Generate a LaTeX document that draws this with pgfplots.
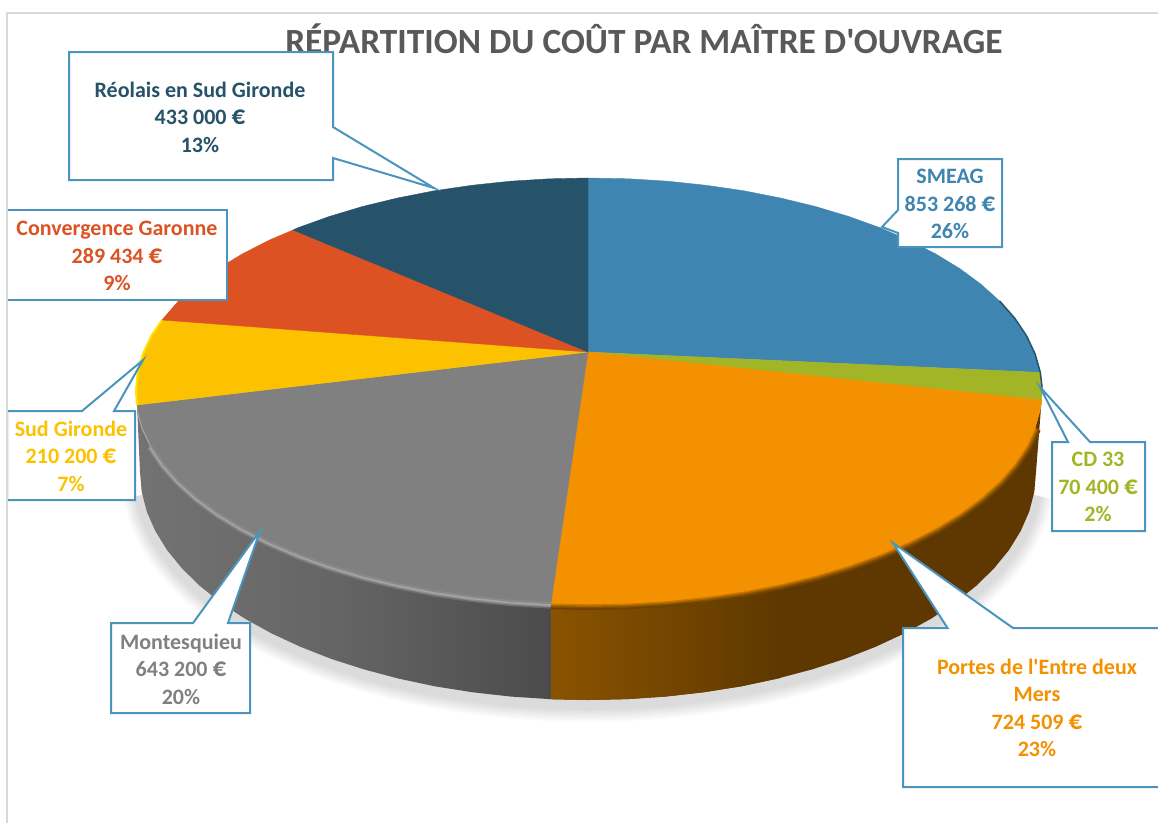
\documentclass[border=0pt]{standalone}
\usepackage{pgfplots}
\pgfplotsset{compat=1.18}
\usepackage{pgfplotstable}
\usepackage{fontspec}
\setmainfont{Carlito}[Ligatures=TeXOff]
\definecolor{cblue}{HTML}{3F85B1}
\definecolor{cgreen}{HTML}{A2B527}
\definecolor{corange}{HTML}{F49100}
\definecolor{cgrey}{HTML}{808080}
\definecolor{cyellow}{HTML}{FCC200}
\definecolor{cred}{HTML}{DC5223}
\definecolor{cnavy}{HTML}{265369}
\definecolor{cborder}{HTML}{4A94BE}
\definecolor{cframe}{HTML}{D9D9D9}
\definecolor{ctitle}{HTML}{595959}
\definecolor{cbrown}{HTML}{5E3800}
\definecolor{wallA}{HTML}{737373}
\definecolor{wallB}{HTML}{646464}
\definecolor{wallC}{HTML}{4B4B4B}
\definecolor{wallO}{HTML}{8A5300}
\definecolor{greyA}{HTML}{7A7A7A}
\definecolor{greyB}{HTML}{8E8E8E}
\definecolor{greyC}{HTML}{A6A6A6}
\definecolor{greyD}{HTML}{8A8A8A}
\newcommand{\eur}{{\fontsize{27}{27.5}\selectfont €}}
\pgfplotstableread{
x y
1034.3 491.9
1029.2 511.6
1020.7 531
1009 550
994 568.4
976 586
955 602.8
931.2 618.6
904.8 633.2
876 646.6
845 658.8
812 669.4
777.3 678.6
741.2 686.3
703.9 692.2
665.8 696.5
627.1 699.1
588 700
548.9 699.1
510.2 696.5
472.1 692.2
434.8 686.3
398.7 678.6
364 669.4
331 658.8
300 646.6
271.2 633.2
244.8 618.6
221 602.8
200 586
182 568.4
167 550
155.3 531
146.8 511.6
141.7 491.9
}\bottomarc
\pgfplotstableread{
x y
1035.1 428.0
1026.6 446.1
1014.7 463.8
999.6 481.0
981.3 497.5
960.1 513.2
936.0 527.9
909.3 541.6
880.2 554.2
848.8 565.5
815.5 575.5
780.4 584.0
743.9 591.2
706.2 596.7
667.6 600.8
628.5 603.2
589 604
551 603.2
}\rimorange
\pgfplotstableread{
x y
551 603.2
510.4 600.8
471.8 596.7
434.1 591.2
397.6 584.0
362.5 575.5
329.2 565.5
297.8 554.2
268.7 541.6
242.0 527.9
217.9 513.2
196.7 497.5
178.4 481.0
163.3 463.8
151.4 446.1
}\rimgrey
\pgfplotstableread{
x y
999.6 301
1014.7 318.2
1026.6 335.9
1035.1 354
1040.3 372.4
1041.8 385
1042 391
}\rimblue
\pgfplotstableread{
x y
137 405
136 391
137.7 372.4
142.9 354
151.4 335.9
162 320
}\rimyellow
\begin{document}
\begin{tikzpicture}
\begin{axis}[at={(0,0)},anchor=south west,scale only axis,width=1158pt,height=823pt,
  xmin=0,xmax=1158,ymin=0,ymax=823,y dir=reverse,hide axis,clip=true,line join=miter]
% background
\addplot[draw=none,fill=white] coordinates {(0,0)(1158,0)(1158,823)(0,823)} --cycle;
% soft shadow under the pie
\addplot[draw=black,opacity=.014,line width=38pt,yshift=-3pt] table[x=x,y=y]{\bottomarc};
\addplot[draw=black,opacity=.014,line width=35pt,yshift=-3pt] table[x=x,y=y]{\bottomarc};
\addplot[draw=black,opacity=.014,line width=32pt,yshift=-3pt] table[x=x,y=y]{\bottomarc};
\addplot[draw=black,opacity=.014,line width=29pt,yshift=-3pt] table[x=x,y=y]{\bottomarc};
\addplot[draw=black,opacity=.014,line width=26pt,yshift=-3pt] table[x=x,y=y]{\bottomarc};
\addplot[draw=black,opacity=.014,line width=23pt,yshift=-3pt] table[x=x,y=y]{\bottomarc};
\addplot[draw=black,opacity=.014,line width=20pt,yshift=-3pt] table[x=x,y=y]{\bottomarc};
\addplot[draw=black,opacity=.014,line width=17pt,yshift=-3pt] table[x=x,y=y]{\bottomarc};
\addplot[draw=black,opacity=.014,line width=14pt,yshift=-3pt] table[x=x,y=y]{\bottomarc};
% side walls
\addplot[draw=none,left color=wallA,right color=wallC,middle color=wallB] coordinates {
(551,603.2)(510.4,600.8)(471.8,596.7)(434.1,591.2)(397.6,584.0)(362.5,575.5)(329.2,565.5)(297.8,554.2)(268.7,541.6)(242.0,527.9)(217.9,513.2)(196.7,497.5)(178.4,481.0)(163.3,463.8)(151.4,446.1)(142.9,428.0)(137.7,409.6)(137,405)
(140,472)(141.7,491.9)(146.8,511.6)(155.3,531)(167,550)(182,568.4)(200,586)(221,602.8)(244.8,618.6)(271.2,633.2)(300,646.6)(331,658.8)(364,669.4)(398.7,678.6)(434.8,686.3)(472.1,692.2)(510.2,696.5)(551,699.2)
} --cycle;
\addplot[draw=none,fill=cbrown] coordinates {
(551,603.2)(589,604)(628.5,603.2)(667.6,600.8)(706.2,596.7)(743.9,591.2)(780.4,584.0)(815.5,575.5)(848.8,565.5)(880.2,554.2)(909.3,541.6)(936.0,527.9)(960.1,513.2)(981.3,497.5)(999.6,481.0)(1014.7,463.8)(1026.6,446.1)(1035.1,428.0)(1040.3,409.6)(1041.6,400)
(1036,472)(1034.3,491.9)(1029.2,511.6)(1020.7,531)(1009,550)(994,568.4)(976,586)(955,602.8)(931.2,618.6)(904.8,633.2)(876,646.6)(845,658.8)(812,669.4)(777.3,678.6)(741.2,686.3)(703.9,692.2)(665.8,696.5)(627.1,699.1)(588,700)(551,699.2)
} --cycle;
\addplot[draw=none,left color=wallO,right color=cbrown] coordinates {
(551,603.2)(589,604)(628.5,603.2)(667.6,600.8)(706.2,596.7)(743.9,591.2)(780.4,584.0)
(780.4,678)(777.3,678.6)(741.2,686.3)(703.9,692.2)(665.8,696.5)(627.1,699.1)(588,700)(551,699.2)
} --cycle;
% bevel just outside the rim
\addplot[draw=corange!10!cbrown,line width=12pt] table[x=x,y=y]{\rimorange};
\addplot[draw=corange!25!cbrown,line width=9pt] table[x=x,y=y]{\rimorange};
\addplot[draw=corange!50!cbrown,line width=6pt] table[x=x,y=y]{\rimorange};
\addplot[draw=corange!75!cbrown,line width=3pt] table[x=x,y=y]{\rimorange};
\addplot[draw=greyA,opacity=.6,line width=11pt] table[x=x,y=y]{\rimgrey};
\addplot[draw=greyB,line width=8pt] table[x=x,y=y]{\rimgrey};
\addplot[draw=greyC,line width=5pt] table[x=x,y=y]{\rimgrey};
\addplot[draw=greyC,line width=3pt] coordinates {(151.4,446.1)(142.9,428.0)(138.6,412)};
% top of the pie
\addplot[draw=cblue,line width=.4pt,fill=cblue] coordinates {(588,352)(588,178)(628.5,178.8)(667.6,181.2)(706.2,185.3)(743.9,190.8)(780.4,198)(815.5,206.5)(848.8,216.5)(880.2,227.8)(909.3,240.4)(936,254.1)(960.1,268.8)(981.3,284.5)(999.6,301)(1014.7,318.2)(1026.6,335.9)(1035.1,354)(1040.3,372.4)} --cycle;
\addplot[draw=cgreen,line width=.4pt,fill=cgreen] coordinates {(588,352)(1040.3,372.4)(1041.8,385)(1042,391)(1041.6,400)} --cycle;
\addplot[draw=corange,line width=.4pt,fill=corange] coordinates {(588,352)(1041.6,400)(1040.3,409.6)(1035.1,428.0)(1026.6,446.1)(1014.7,463.8)(999.6,481.0)(981.3,497.5)(960.1,513.2)(936.0,527.9)(909.3,541.6)(880.2,554.2)(848.8,565.5)(815.5,575.5)(780.4,584.0)(743.9,591.2)(706.2,596.7)(667.6,600.8)(628.5,603.2)(589,604)(551,603.2)} --cycle;
\addplot[draw=cgrey,line width=.4pt,fill=cgrey] coordinates {(588,352)(551,603.2)(510.4,600.8)(471.8,596.7)(434.1,591.2)(397.6,584.0)(362.5,575.5)(329.2,565.5)(297.8,554.2)(268.7,541.6)(242.0,527.9)(217.9,513.2)(196.7,497.5)(178.4,481.0)(163.3,463.8)(151.4,446.1)(142.9,428.0)(137.7,409.6)(137,405)} --cycle;
\addplot[draw=cyellow,line width=.4pt,fill=cyellow] coordinates {(588,352)(137,405)(136,391)(137.7,372.4)(142.9,354)(151.4,335.9)(162,320)} --cycle;
\addplot[draw=cred,line width=.4pt,fill=cred] coordinates {(588,352)(162,320)(178.4,301)(196.7,284.5)(217.9,268.8)(242,254.1)(268.7,240.4)(293,230)} --cycle;
\addplot[draw=cnavy,line width=.4pt,fill=cnavy] coordinates {(588,352)(293,230)(297.8,227.8)(329.2,216.5)(362.5,206.5)(397.6,198)(434.1,190.8)(471.8,185.3)(510.4,181.2)(549.5,178.8)(588,178)} --cycle;
% thin rim accents
\addplot[draw=greyD,line width=2pt] table[x=x,y=y]{\rimgrey};
\addplot[draw=cnavy,line width=1.5pt] table[x=x,y=y]{\rimblue};
\addplot[draw=yellow!70!cyellow,line width=2pt] table[x=x,y=y]{\rimyellow};
% frame
\addplot[draw=cframe,line width=2pt] coordinates {(7,823)(7,13)(1158,13)};
% title
\node[text=ctitle,font=\bfseries\fontsize{35.4}{40}\selectfont,anchor=center] at (axis cs:644,39) {RÉPARTITION DU COÛT PAR MAÎTRE D'OUVRAGE};
% callouts
\addplot[draw=cborder,fill=white,line width=2pt] coordinates {(69,52)(333,52)(333,127)(434,188)(333,158)(333,180)(69,180)} --cycle;
\addplot[draw=cborder,fill=white,line width=2pt] coordinates {(7,210)(227,210)(227,300)(7,300)} --cycle;
\addplot[draw=cborder,fill=white,line width=2pt] coordinates {(7,411)(82,411)(143,360)(114,411)(135,411)(135,500)(7,500)} --cycle;
\addplot[draw=cborder,fill=white,line width=2pt] coordinates {(111,623)(193,623)(260,531)(228,623)(250,623)(250,713)(111,713)} --cycle;
\addplot[draw=cborder,fill=white,line width=2pt] coordinates {(903,628)(947.5,628)(893,543)(1013,628)(1170,628)(1170,787)(903,787)} --cycle;
\addplot[draw=cborder,fill=white,line width=2pt] coordinates {(1052,442)(1068,442)(1040,387)(1090,442)(1145,442)(1145,531)(1052,531)} --cycle;
\addplot[draw=cborder,fill=white,line width=2pt] coordinates {(898,159)(1002,159)(1002,247)(898,247)(898,233)(882,227)(898,210)} --cycle;
\addplot[draw=cframe,line width=2pt] coordinates {(7,205)(7,305)};
\addplot[draw=cframe,line width=2pt] coordinates {(7,406)(7,505)};
% labels
\tikzset{lab/.style={align=center,font=\bfseries\fontsize{22}{27.5}\selectfont,anchor=center}}
\node[lab,text=cnavy] at (axis cs:200,117) {Réolais en Sud Gironde\\433 000 \eur\\13\%};
\node[lab,text=cred] at (axis cs:117,256) {Convergence Garonne\\289 434 \eur\\9\%};
\node[lab,text=cyellow] at (axis cs:71,456) {Sud Gironde\\210 200 \eur\\7\%};
\node[lab,text=cgrey] at (axis cs:181,669) {Montesquieu\\643 200 \eur\\20\%};
\node[lab,text=corange] at (axis cs:1037,708) {Portes de l'Entre deux\\Mers\\724 509 \eur\\23\%};
\node[lab,text=cgreen] at (axis cs:1098,487) {CD 33\\70 400 \eur\\2\%};
\node[lab,text=cblue] at (axis cs:950,204) {SMEAG\\853 268 \eur\\26\%};
\end{axis}
\end{tikzpicture}
\end{document}
